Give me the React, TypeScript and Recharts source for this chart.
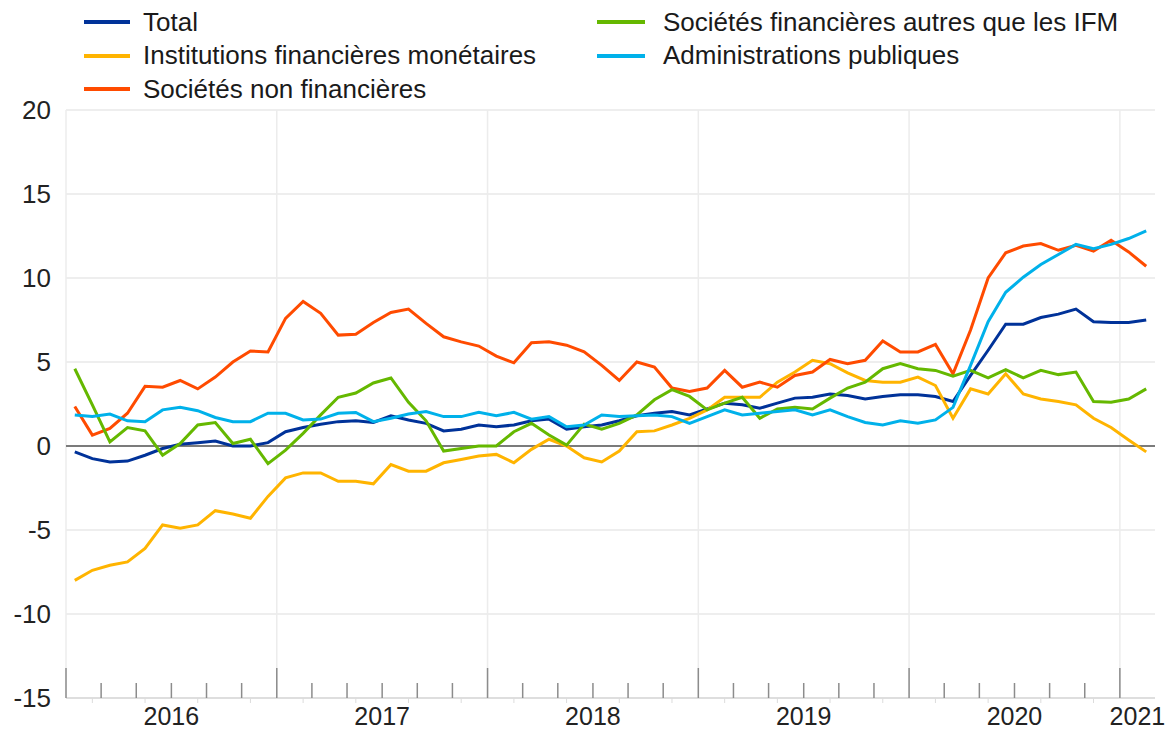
import { CartesianGrid, Line, LineChart, ReferenceLine, XAxis, YAxis } from "recharts";

// monthly observations, Jan 2016 - Feb 2021
const total = [
  -0.35, -0.75, -0.95, -0.9, -0.55, -0.15, 0.1, 0.2, 0.3, 0.0, 0.0, 0.2,
  0.85, 1.1, 1.3, 1.45, 1.5, 1.4, 1.8, 1.55, 1.35, 0.9, 1.0, 1.25,
  1.15, 1.25, 1.5, 1.6, 1.0, 1.15, 1.25, 1.5, 1.8, 1.95, 2.05, 1.85,
  2.2, 2.55, 2.45, 2.25, 2.55, 2.85, 2.9, 3.1, 3.0, 2.8, 2.95, 3.05,
  3.05, 2.95, 2.65, 4.2, 5.7, 7.25, 7.25, 7.65, 7.85, 8.15, 7.4, 7.35,
  7.35, 7.5,
];
const ifm = [
  -8.0, -7.4, -7.1, -6.9, -6.1, -4.7, -4.9, -4.7, -3.85, -4.05, -4.3, -3.0,
  -1.9, -1.6, -1.6, -2.1, -2.1, -2.25, -1.1, -1.5, -1.5, -1.0, -0.8, -0.6,
  -0.5, -1.0, -0.2, 0.4, 0.0, -0.7, -0.95, -0.3, 0.85, 0.9, 1.25, 1.65,
  2.15, 2.9, 2.9, 2.9, 3.8, 4.4, 5.1, 4.9, 4.35, 3.9, 3.8, 3.8,
  4.1, 3.6, 1.65, 3.4, 3.1, 4.3, 3.1, 2.8, 2.65, 2.45, 1.65, 1.1,
  0.36, -0.35,
];
const snf = [
  2.35, 0.65, 1.05, 1.95, 3.55, 3.5, 3.9, 3.4, 4.1, 5.0, 5.65, 5.6,
  7.6, 8.6, 7.9, 6.6, 6.65, 7.35, 7.95, 8.15, 7.3, 6.5, 6.2, 5.95,
  5.35, 4.95, 6.15, 6.2, 6.0, 5.6, 4.8, 3.9, 5.0, 4.7, 3.45, 3.25,
  3.45, 4.5, 3.5, 3.8, 3.5, 4.2, 4.4, 5.15, 4.9, 5.1, 6.25, 5.6,
  5.6, 6.05, 4.3, 6.9, 10.0, 11.5, 11.9, 12.05, 11.65, 11.95, 11.6, 12.25,
  11.55, 10.7,
];
const sfAutres = [
  4.6, 2.45, 0.25, 1.1, 0.9, -0.55, 0.15, 1.25, 1.4, 0.15, 0.4, -1.05,
  -0.25, 0.75, 1.85, 2.9, 3.15, 3.75, 4.05, 2.6, 1.5, -0.3, -0.15, 0.0,
  0.0, 0.85, 1.35, 0.65, 0.05, 1.3, 1.0, 1.35, 1.85, 2.75, 3.35, 2.95,
  2.15, 2.55, 2.9, 1.65, 2.2, 2.3, 2.2, 2.85, 3.45, 3.8, 4.6, 4.9,
  4.6, 4.5, 4.15, 4.5, 4.05, 4.55, 4.05, 4.5, 4.25, 4.4, 2.65, 2.6,
  2.8, 3.4,
];
const apu = [
  1.85, 1.75, 1.9, 1.5, 1.45, 2.15, 2.3, 2.1, 1.7, 1.45, 1.45, 1.95,
  1.95, 1.55, 1.6, 1.95, 2.0, 1.45, 1.65, 1.9, 2.05, 1.75, 1.75, 2.0,
  1.8, 2.0, 1.6, 1.75, 1.15, 1.25, 1.85, 1.75, 1.8, 1.85, 1.75, 1.35,
  1.75, 2.15, 1.85, 1.95, 2.05, 2.15, 1.85, 2.15, 1.75, 1.4, 1.25, 1.5,
  1.35, 1.55, 2.3, 4.8, 7.4, 9.15, 10.05, 10.8, 11.4, 12.0, 11.75, 12.0,
  12.35, 12.8,
];

const years = ["2016", "2017", "2018", "2019", "2020", "2021"];
const yTicks = [-15, -10, -5, 0, 5, 10, 15, 20];

const SERIES = [
  { key: "total", name: "Total", color: "#003299", values: total },
  { key: "ifm", name: "Institutions financières monétaires", color: "#ffb400", values: ifm },
  { key: "snf", name: "Sociétés non financières", color: "#ff4b00", values: snf },
  { key: "sfAutres", name: "Sociétés financières autres que les IFM", color: "#65b800", values: sfAutres },
  { key: "apu", name: "Administrations publiques", color: "#00b1ea", values: apu },
];

const N = total.length;
const data = total.map((_, i) => {
  const row: Record<string, number> = { t: i + 0.5 };
  SERIES.forEach((s) => (row[s.key] = s.values[i]));
  return row;
});

// label sits in the middle of the visible part of each year
const labelAt: Record<string, string> = {};
years.forEach((y, k) => {
  const mid = (k * 12 + Math.min((k + 1) * 12, N)) / 2;
  labelAt[String(mid)] = y;
});

const xTicks = Array.from(
  new Set([
    ...Array.from({ length: N / 2 + 1 }, (_, k) => k * 2),
    ...Array.from({ length: N / 3 }, (_, k) => k * 3 + 1.5),
    ...Object.keys(labelAt).map(Number),
  ])
).sort((a, b) => a - b);

const FONT = "'Liberation Sans', Arial, sans-serif";

function XTick({ x, y, payload }: any) {
  const v = payload.value;
  const label = labelAt[String(v)];
  const isMajor = Number.isInteger(v) && v % 12 === 0 && v < N;
  const isMinor = Number.isInteger(v) && v % 2 === 0 && !isMajor && v < N;
  const isSmall = !Number.isInteger(v);
  return (
    <g>
      {isMajor && <line x1={x} x2={x} y1={y} y2={y - 30} stroke="#8c8c8c" strokeWidth={1.5} />}
      {isMinor && <line x1={x} x2={x} y1={y} y2={y - 15} stroke="#8c8c8c" strokeWidth={1.5} />}
      {isSmall && <line x1={x} x2={x} y1={y} y2={y + 5} stroke="#dcdcdc" strokeWidth={1} />}
      {label && (
        <text x={x} y={y + 27} textAnchor="middle" fontSize={25} fill="#222" fontFamily={FONT}>
          {label}
        </text>
      )}
    </g>
  );
}

function LegendBlock() {
  const cols = [
    { left: 84, lineW: 46, items: SERIES.slice(0, 3) },
    { left: 597, lineW: 48, items: SERIES.slice(3) },
  ];
  return (
    <>
      {cols.map((c, ci) =>
        c.items.map((s, ri) => (
          <div
            key={s.key}
            style={{
              position: "absolute",
              left: c.left,
              top: 22 + ri * 33.5 - 15,
              height: 30,
              display: "flex",
              alignItems: "center",
              fontFamily: FONT,
              fontSize: 26,
              color: "#1a1a1a",
              whiteSpace: "nowrap",
            }}
          >
            <span style={{ width: c.lineW, height: 4, background: s.color, marginRight: ci === 0 ? 13 : 18 }} />
            <span>{s.name}</span>
          </div>
        ))
      )}
    </>
  );
}

export default function App() {
  return (
    <div style={{ position: "absolute", left: 0, top: 0, width: 1167, height: 731, background: "#fff" }}>
      <LegendBlock />
      <LineChart width={1167} height={731} data={data} margin={{ top: 110, right: 12, left: 0, bottom: 0 }}>
        <CartesianGrid vertical={false} stroke="#e8e8e8" strokeWidth={1.5} />
        <XAxis
          dataKey="t"
          type="number"
          domain={[0, N]}
          ticks={xTicks}
          interval={0}
          height={33}
          tickSize={0}
          tickMargin={0}
          tickLine={false}
          axisLine={{ stroke: "#d9d9d9", strokeWidth: 1.5 }}
          tick={<XTick />}
        />
        <YAxis
          type="number"
          domain={[-15, 20]}
          ticks={yTicks}
          width={66}
          tickLine={false}
          axisLine={false}
          tickMargin={9}
          tick={{ fontSize: 26, fill: "#222", fontFamily: FONT }}
        />
        {[0, 12, 24, 36, 48, 60].map((m) => (
          <ReferenceLine key={m} x={m} stroke="#ececec" strokeWidth={1.5} />
        ))}
        <ReferenceLine y={0} stroke="#555" strokeWidth={1.5} />
        {SERIES.map((s) => (
          <Line
            key={s.key}
            dataKey={s.key}
            name={s.name}
            stroke={s.color}
            strokeWidth={3}
            dot={false}
            type="linear"
            isAnimationActive={false}
          />
        ))}
      </LineChart>
    </div>
  );
}
